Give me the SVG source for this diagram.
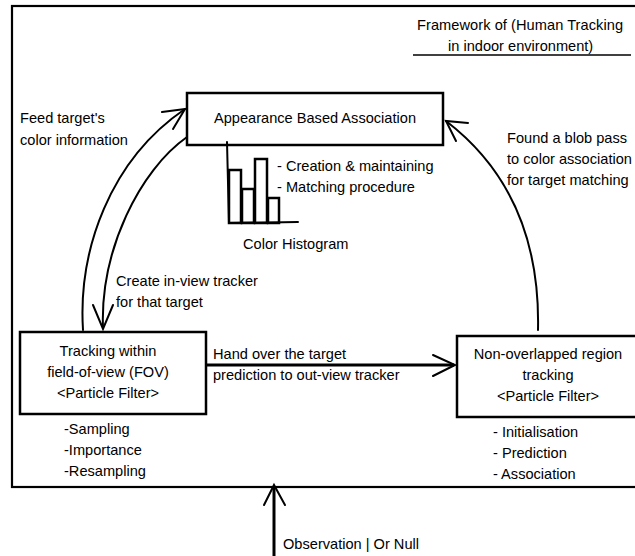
<svg xmlns="http://www.w3.org/2000/svg" width="635" height="556" viewBox="0 0 635 556">
<style>
text{font-family:"Liberation Sans",Arial,sans-serif;font-size:14.6px;fill:#000}
.c{text-anchor:middle}
.box{fill:#fff;stroke:#000;stroke-width:2.5}
.ln{fill:none;stroke:#000;stroke-width:2;stroke-linecap:round}
.th{fill:none;stroke:#000;stroke-width:3}
</style>
<rect x="0" y="0" width="635" height="556" fill="#fff"/>
<g id="frame">
<rect x="12" y="6" width="640" height="481" fill="none" stroke="#000" stroke-width="2.2"/>
</g>
<g id="title">
<text x="417" y="30" textLength="206" lengthAdjust="spacing">Framework of (Human Tracking</text>
<text x="448" y="51">in indoor environment)</text>
<line x1="413" y1="55" x2="631" y2="55" stroke="#000" stroke-width="1.5"/>
</g>
<g id="connectors">
<path class="ln" d="M83,330 C78,250 110,160 185,109"/>
<path class="ln" d="M162,112 L185,109 L173,129"/>
<path class="ln" d="M187,137 C140,170 100,250 103,328"/>
<path class="ln" d="M93,305 L103,329 L113,305"/>
<path class="ln" d="M538,330 C540,240 510,170 446,121"/>
<path class="ln" d="M468,123 L446,121 L456,141"/>
<line class="th" x1="206" y1="365" x2="454" y2="365"/>
<path class="ln" stroke-width="2.5" d="M433,355 L455,365 L433,376"/>
<line class="th" x1="274" y1="556" x2="274" y2="487"/>
<path class="ln" stroke-width="3" d="M264,505 L274,485 L285,505"/>
</g>
<g id="appearance">
<rect class="box" x="187" y="93" width="256" height="52"/>
<text class="c" x="315" y="123">Appearance Based Association</text>
</g>
<g id="histogram">
<line class="ln" x1="227" y1="142" x2="229" y2="223"/>
<rect class="box" stroke-width="2" x="229" y="170" width="12" height="53"/>
<rect class="box" stroke-width="2" x="242" y="189" width="12" height="34"/>
<rect class="box" stroke-width="2" x="255" y="159" width="12" height="64"/>
<rect class="box" stroke-width="2" x="268" y="198" width="11" height="25"/>
<line class="ln" x1="229" y1="223" x2="298" y2="222"/>
<text x="277" y="171">- Creation &amp; maintaining</text>
<text x="277" y="192">- Matching procedure</text>
<text x="243" y="249">Color Histogram</text>
</g>
<g id="labels">
<text x="20" y="123">Feed target's</text>
<text x="20" y="145">color information</text>
<text x="507" y="143">Found a blob pass</text>
<text x="507" y="164">to color association</text>
<text x="507" y="185">for target matching</text>
<text x="116" y="286">Create in-view tracker</text>
<text x="116" y="307">for that target</text>
<text x="213" y="359">Hand over the target</text>
<text x="213" y="380">prediction to out-view tracker</text>
<text x="283" y="549">Observation | Or Null</text>
</g>
<g id="fov">
<rect class="box" x="20" y="332" width="186" height="82"/>
<text class="c" x="108" y="356">Tracking within</text>
<text class="c" x="108" y="377">field-of-view (FOV)</text>
<text class="c" x="108" y="398">&lt;Particle Filter&gt;</text>
<text x="64" y="434">-Sampling</text>
<text x="64" y="455">-Importance</text>
<text x="64" y="476">-Resampling</text>
</g>
<g id="nonoverlap">
<rect class="box" x="457" y="336" width="190" height="81"/>
<text class="c" x="548" y="359">Non-overlapped region</text>
<text class="c" x="548" y="380">tracking</text>
<text class="c" x="548" y="401">&lt;Particle Filter&gt;</text>
<text x="493" y="437">- Initialisation</text>
<text x="493" y="458">- Prediction</text>
<text x="493" y="479">- Association</text>
</g>
</svg>
